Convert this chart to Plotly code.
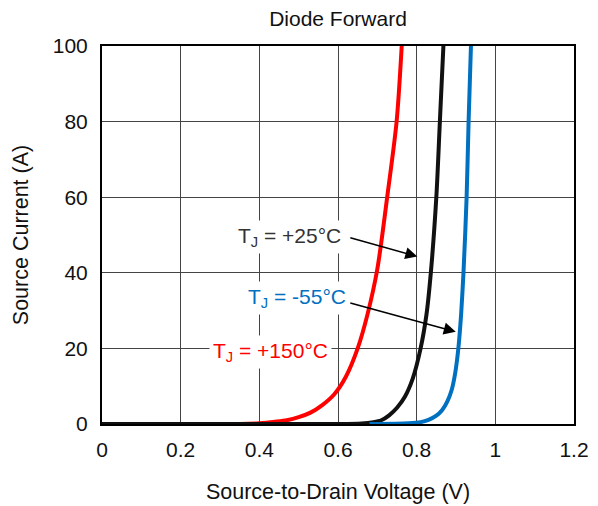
import plotly.graph_objects as go

# Series
v_150 = [0, 0.35, 0.40, 0.44, 0.47, 0.50, 0.53, 0.56, 0.59, 0.62, 0.65, 0.675, 0.70, 0.725, 0.749, 0.762]
i_150 = [0, 0, 0.2, 0.6, 1.0, 1.8, 3.0, 5.0, 7.8, 12.5, 20, 29, 41, 60, 80, 100]

v_25 = [0, 0.60, 0.66, 0.69, 0.71, 0.73, 0.75, 0.77, 0.79, 0.81, 0.825, 0.836, 0.85, 0.859, 0.868]
i_25 = [0, 0, 0.15, 0.5, 1.0, 2.3, 4.3, 7.2, 12.0, 20, 29, 40, 60, 80, 100]

v_m55 = [0.68, 0.78, 0.81, 0.83, 0.85, 0.865, 0.878, 0.889, 0.898, 0.906, 0.913, 0.919, 0.927, 0.932, 0.938]
i_m55 = [0, 0.2, 0.5, 1.1, 2.2, 3.7, 6, 9, 13.5, 20, 29, 40, 60, 80, 100]

x_ticks = [0, 0.2, 0.4, 0.6, 0.8, 1.0, 1.2]
x_ticklabels = ["0", "0.2", "0.4", "0.6", "0.8", "1", "1.2"]
y_ticks = [0, 20, 40, 60, 80, 100]

FONT = "Liberation Sans, Arial, sans-serif"
TXT = "#111111"

fig = go.Figure()
fig.add_trace(go.Scatter(x=v_150, y=i_150, mode="lines",
                         line=dict(color="#FF0000", width=4, shape="spline", smoothing=0.8),
                         showlegend=False))
fig.add_trace(go.Scatter(x=v_25, y=i_25, mode="lines",
                         line=dict(color="#111111", width=4, shape="spline", smoothing=0.8),
                         showlegend=False))
fig.add_trace(go.Scatter(x=v_m55, y=i_m55, mode="lines",
                         line=dict(color="#0070C0", width=4, shape="spline", smoothing=0.8),
                         showlegend=False))

labels = [
    ("T<sub>J</sub> = +25°C", "#333333", 0.476, 49.4),
    ("T<sub>J</sub> = -55°C", "#0070C0", 0.4955, 33.3),
    ("T<sub>J</sub> = +150°C", "#FF0000", 0.428, 19.0),
]
for txt, col, xx, yy in labels:
    fig.add_annotation(x=xx, y=yy, xref="x", yref="y", text=txt, showarrow=False,
                       font=dict(family=FONT, size=21, color=col),
                       bgcolor="white", borderpad=3)

arrows = [
    (0.8017, 44.3, 0.6275, 49.4),
    (0.8994, 24.4, 0.6275, 32.1),
]
for xx, yy, axx, ayy in arrows:
    fig.add_annotation(x=xx, y=yy, ax=axx, ay=ayy, xref="x", yref="y", axref="x", ayref="y",
                       text="", showarrow=True, arrowhead=2, arrowsize=1.6, arrowwidth=1.5,
                       arrowcolor="black")

fig.update_layout(
    width=598, height=506,
    margin=dict(l=94, r=32, t=38, b=90),
    paper_bgcolor="white", plot_bgcolor="white",
    font=dict(family=FONT, size=21, color=TXT),
    title=dict(text="Diode Forward", x=330 / 598, xanchor="center",
               y=1 - 3 / 506, yanchor="top", pad=dict(t=0, b=0),
               font=dict(family=FONT, size=21, color=TXT)),
)
fig.update_xaxes(range=[0, 1.2], tickvals=x_ticks, ticktext=x_ticklabels,
                 showgrid=True, gridcolor="#444444", gridwidth=1,
                 showline=True, linecolor="black", linewidth=2, mirror=True,
                 ticks="", ticklabelstandoff=6, zeroline=False,
                 title=dict(text="Source-to-Drain Voltage (V)", standoff=24,
                            font=dict(family=FONT, size=21.5, color=TXT)))
fig.update_yaxes(range=[0, 100], tickvals=y_ticks,
                 showgrid=True, gridcolor="#444444", gridwidth=1,
                 showline=True, linecolor="black", linewidth=2, mirror=True,
                 ticks="", ticklabelstandoff=8, zeroline=False,
                 title=dict(text="Source Current (A)", standoff=18,
                            font=dict(family=FONT, size=21.5, color=TXT)))

fig.write_html("out.html")
